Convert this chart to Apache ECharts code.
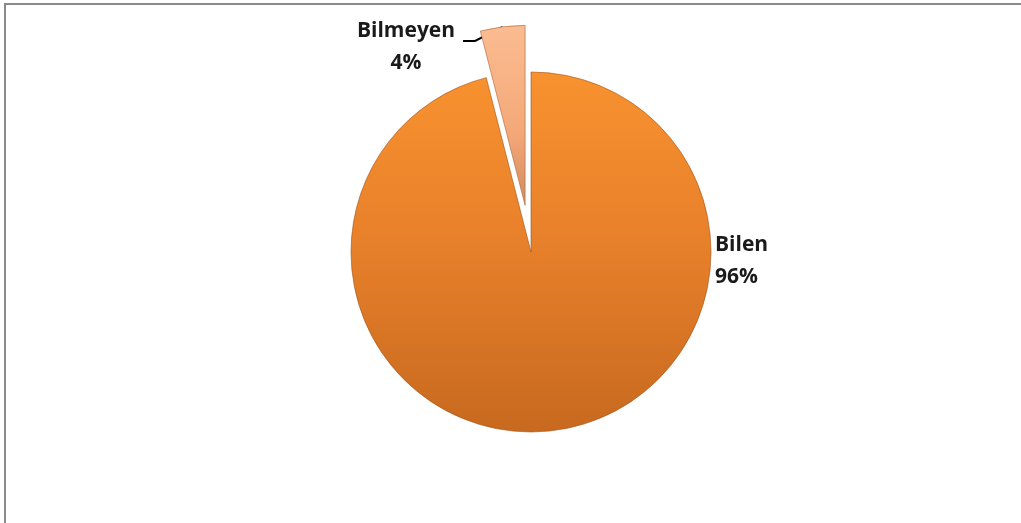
<!DOCTYPE html>
<html>
<head>
<meta charset="utf-8">
<script src="https://cdn.jsdelivr.net/npm/echarts@6/dist/echarts.min.js"></script>
<style>
  html, body { margin: 0; padding: 0; background: #ffffff; }
  #frame { position: absolute; left: 4px; top: 3px; width: 1040px; height: 540px;
           border-top: 2px solid #8a8a8a; border-left: 2px solid #8a8a8a; }
  #chart { position: absolute; left: 0; top: 0; width: 1021px; height: 523px; }
</style>
</head>
<body>
<div id="frame"></div>
<div id="chart"></div>
<script>
const categories = ['Bilen', 'Bilmeyen'];
const values = [96, 4];
const exploded = [false, true];

const chart = echarts.init(document.getElementById('chart'), null, { renderer: 'canvas' });

const styles = [
  {
    color: { type: 'linear', x: 0, y: 0, x2: 0, y2: 1,
      colorStops: [{ offset: 0, color: '#F8922F' }, { offset: 0.5, color: '#E67F2A' }, { offset: 1, color: '#C7691F' }] },
    borderColor: 'rgba(160,80,20,0.6)', borderWidth: 1
  },
  {
    color: { type: 'linear', x: 0, y: 0, x2: 0, y2: 1,
      colorStops: [{ offset: 0, color: '#FBBC91' }, { offset: 0.6, color: '#F4A878' }, { offset: 1, color: '#D38A5E' }] },
    borderColor: 'rgba(170,100,60,0.6)', borderWidth: 1
  }
];
const hidden = { color: 'rgba(0,0,0,0)', borderWidth: 0 };

const center = [531, 252];
const radius = 180;
const explodeOffset = 47;

// offset the exploded slice along its bisector
const total = values.reduce((a, b) => a + b, 0);
function sliceCenter(idx) {
  let before = 0;
  for (let i = 0; i < idx; i++) before += values[i];
  const midFrac = (before + values[idx] / 2) / total;
  const ang = Math.PI / 2 - midFrac * 2 * Math.PI; // clockwise from 12 o'clock
  return [center[0] + explodeOffset * Math.cos(ang), center[1] - explodeOffset * Math.sin(ang)];
}

const labelBase = {
  show: true,
  position: 'outside',
  fontFamily: 'Open Sans',
  fontWeight: 'bold',
  fontSize: 21,
  lineHeight: 32,
  color: '#1a1a1a',
  formatter: p => p.name + '\n' + p.value + '%'
};

function makeSeries(showExploded) {
  return {
    type: 'pie',
    center: showExploded ? sliceCenter(1) : center,
    radius: radius,
    startAngle: 90,
    clockwise: true,
    avoidLabelOverlap: false,
    emphasis: { disabled: true },
    silent: true,
    label: labelBase,
    labelLine: {
      show: true,
      length: 10,
      length2: 12,
      lineStyle: { color: '#000000', width: 2 }
    },
    labelLayout: function (params) {
      if (params.dataIndex === 0) {
        return { x: 715, y: 261, align: 'left', verticalAlign: 'middle' };
      }
      const lx = 406, ly = 47;
      const out = { x: lx, y: ly, align: 'center', verticalAlign: 'middle' };
      if (params.labelLinePoints && params.labelLinePoints.length) {
        const start = params.labelLinePoints[0];
        const right = lx + params.labelRect.width / 2 + 8;
        const yLine = ly - 6;
        out.labelLinePoints = [start, [right + 12, yLine], [right, yLine]];
      }
      return out;
    },
    data: categories.map((name, i) => {
      const visible = exploded[i] === showExploded;
      return {
        name: name,
        value: values[i],
        itemStyle: visible ? styles[i] : hidden,
        label: { show: visible },
        labelLine: { show: visible && i === 1 }
      };
    })
  };
}

const option = {
  animation: false,
  series: [makeSeries(false), makeSeries(true)]
};

chart.setOption(option);
</script>
</body>
</html>
